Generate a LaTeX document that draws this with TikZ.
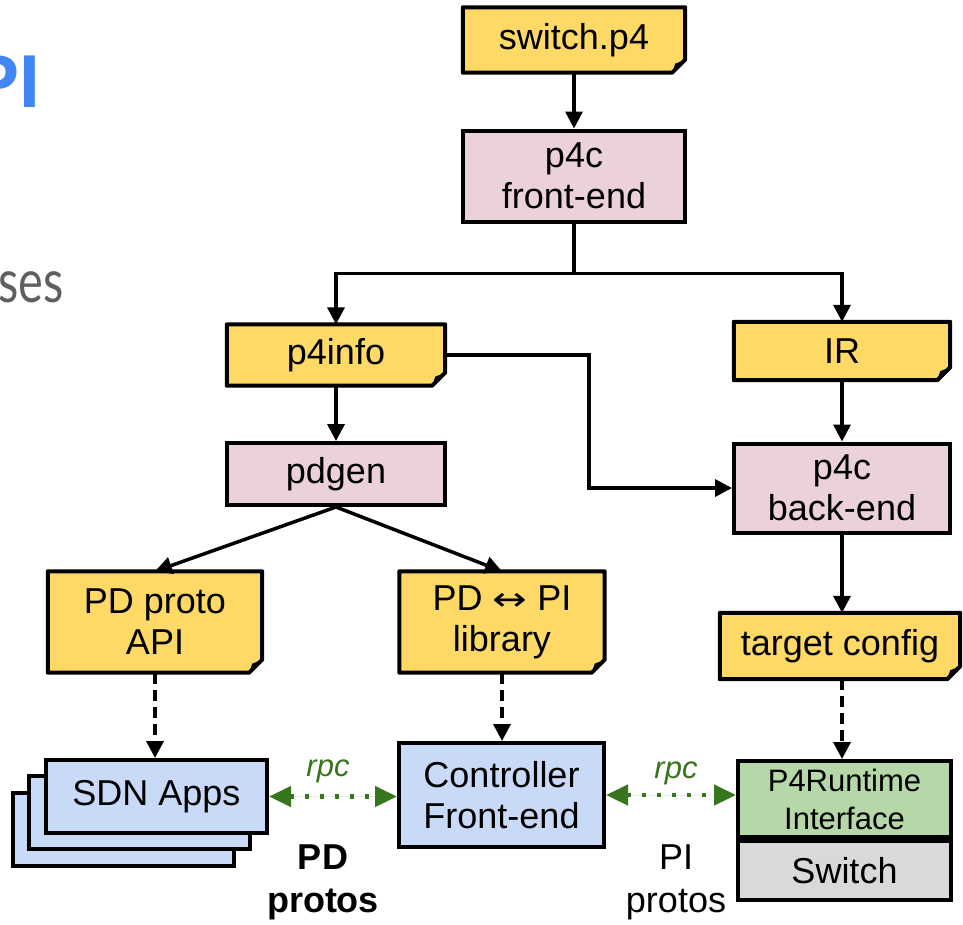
\documentclass[tikz,border=0pt]{standalone}
\usepackage{fontspec}
\setmainfont{Liberation Sans}
\newfontfamily\latofont{Lato}
\newfontfamily\symfont{DejaVu Sans}
\usetikzlibrary{arrows.meta,backgrounds,calc}

\definecolor{noteyellow}{HTML}{FFD966}
\definecolor{stagepink}{HTML}{EAD1DC}
\definecolor{appblue}{HTML}{C9DAF8}
\definecolor{rtgreen}{HTML}{B6D7A8}
\definecolor{swgray}{HTML}{D9D9D9}
\definecolor{rpcgreen}{HTML}{38761D}
\definecolor{titleblue}{HTML}{4285F4}
\definecolor{subgray}{HTML}{5F5F5F}

\tikzset{
  txt/.style={inner sep=0pt, align=center, font=\fontsize{36}{41}\selectfont},
  box/.style={txt, draw=black, line width=4pt},
  stagebox/.style={box, fill=stagepink},
  appbox/.style={box, fill=appblue},
  arr/.style={line width=3.5pt, -{Triangle[length=17pt,width=17pt]}},
  dasharr/.style={arr, dash pattern=on 11pt off 6pt},
  rpcarr/.style={draw=rpcgreen, fill=rpcgreen, line width=4.5pt, dash pattern=on 4pt off 11pt,
    {Triangle[length=22pt,width=20pt]}-{Triangle[length=22pt,width=20pt]}},
  rpclabel/.style={inner sep=0pt, text=rpcgreen, font=\fontsize{31}{34}\selectfont\itshape},
  protolabel/.style={txt},
}

% a note card: yellow sheet with its lower right corner folded over
% #1 name, #2 centre, #3 width, #4 height, #5 text
\newcommand{\notecard}[5]{%
  \node[txt, minimum width=#3, minimum height=#4] (#1) at #2 {#5};
  \begin{pgfonlayer}{background}
    \filldraw[fill=noteyellow, draw=black, line width=4pt, line join=round]
      (#1.north west) -- (#1.north east) -- ($(#1.south east)+(0,-13)$)
      -- ($(#1.south east)+(-13,0)$) -- (#1.south west) -- cycle;
    \fill[black] ($(#1.south east)+(0,-13)$) -- ($(#1.south east)+(-13,0)$)
      -- ($(#1.south east)+(-10,-9)$) -- cycle;
  \end{pgfonlayer}}

\begin{document}
\begin{tikzpicture}[x=1pt, y=-1pt]
\useasboundingbox (0,0) rectangle (963,924);

% slide fragments at the left edge
\node[inner sep=0pt, anchor=base east, text=titleblue,
      font=\fontsize{75}{80}\selectfont\bfseries] (title) at (41,107) {PI};
\node[inner sep=0pt, anchor=base east, text=subgray,
      font=\latofont\fontsize{60}{64}\selectfont] (subtitle) at (64,302) {\scalebox{0.78}[1]{ses}};

% compiler pipeline
\notecard{switch}{(574,40)}{222pt}{65pt}{switch.p4}
\node[stagebox, minimum width=222pt, minimum height=91pt] (frontend) at (574,176) {p4c\\front-end};
\notecard{p4info}{(336,355)}{218pt}{61pt}{p4info}
\notecard{ir}{(842,351)}{216pt}{58pt}{IR}
\node[stagebox, minimum width=218pt, minimum height=62pt] (pdgen) at (336,474) {pdgen};
\node[stagebox, minimum width=216pt, minimum height=89pt] (backend) at (842,488) {p4c\\back-end};
\notecard{pdapi}{(155,622)}{214pt}{101pt}{PD proto\\API}
\notecard{pdpi}{(502,622)}{205pt}{101pt}{PD {\symfont\scalebox{1.15}[0.9]{↔}} PI\\library}
\notecard{target}{(840,646)}{240pt}{66pt}{target config}

% runtime components
\node[appbox, minimum width=221pt, minimum height=73pt] (sdnback) at (123.5,829) {};
\node[appbox, minimum width=221pt, minimum height=73pt] (sdnmid) at (139.5,812) {};
\node[appbox, minimum width=221pt, minimum height=73pt] (sdn) at (156.5,796.5) {SDN Apps};
\node[appbox, minimum width=205pt, minimum height=104pt] (ctrl) at (501.5,795) {Controller\\Front-end};
\node[box, fill=rtgreen, minimum width=213pt, minimum height=76pt,
      font=\fontsize{31}{38}\selectfont] (rt) at (844.5,799) {P4Runtime\\Interface};
\node[box, fill=swgray, minimum width=213pt, minimum height=59pt, anchor=north] (sw) at (rt.south) {Switch};

% build flow
\draw[arr] (switch) -- (frontend);
\draw[line width=3.5pt] (frontend.south) -- ++(0,50) coordinate (split);
\draw[arr] (split) -| (p4info.north);
\draw[arr] (split) -| (ir.north);
\draw[arr] (p4info) -- (pdgen);
\draw[arr] (ir) -- (backend);
\coordinate (elbow) at (589,420);
\draw[arr] (p4info.east) -| (elbow) |- (backend.west);
\draw[arr] (pdgen.south) -- (pdapi.north);
\draw[arr] (pdgen.south) -- (pdpi.north);
\draw[arr] (backend.south) -- (backend.south |- target.north);

% generated artefacts used at run time
\draw[dasharr] (pdapi.south) -- (pdapi.south |- sdn.north);
\draw[dasharr] (pdpi.south) -- (pdpi.south |- ctrl.north);
\draw[dasharr] (target.south -| backend) -- (rt.north -| backend);

% rpc links
\draw[rpcarr] (sdn.east) -- (sdn.east -| ctrl.west);
\draw[rpcarr] (ctrl.east) -- (ctrl.east -| rt.west);
\node[rpclabel] (rpcpd) at (328,771) {rpc};
\node[rpclabel] (rpcpi) at (676,773) {rpc};
\node[protolabel, font=\fontsize{36}{43}\selectfont\bfseries] (pdprotos) at (323,882) {PD\\protos};
\node[protolabel, font=\fontsize{36}{43}\selectfont] (piprotos) at (676,882) {PI\\protos};
\end{tikzpicture}
\end{document}
